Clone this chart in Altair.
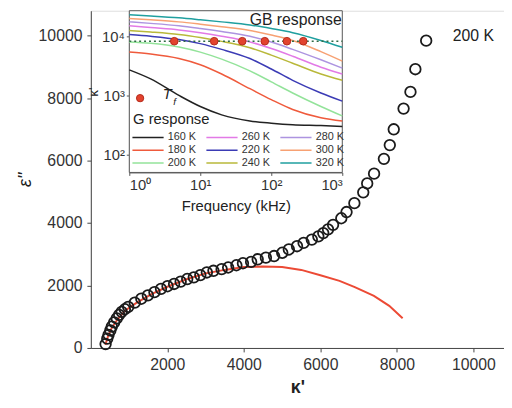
import altair as alt
import pandas as pd

# ---------------- main plot data (200 K Cole-Cole) ----------------
circ_x = [386, 430, 463, 510, 548, 610, 677, 740, 806, 890, 977, 1148, 1320, 1491, 1663,
          1834, 2005, 2177, 2348, 2519, 2691, 2862, 3033, 3205, 3419, 3590, 3805, 3976,
          4190, 4362, 4576, 4790, 5004, 5176, 5390, 5562, 5776, 5947, 6076, 6200, 6332,
          6547, 6684, 6889, 7121, 7224, 7404, 7661, 7815, 7918, 8175, 8355, 8483, 8766]
circ_y = [126, 300, 420, 560, 684, 820, 947, 1060, 1157, 1240, 1315, 1451, 1577, 1683, 1788,
          1893, 1977, 2050, 2124, 2208, 2261, 2335, 2418, 2472, 2524, 2577, 2649, 2713,
          2755, 2840, 2892, 2944, 3049, 3154, 3259, 3364, 3470, 3574, 3680, 3800, 3943,
          4154, 4353, 4637, 4984, 5268, 5583, 6057, 6498, 7003, 7665, 8201, 8927, 9841]

fit_x = [380, 450, 550, 700, 900, 1200, 1600, 2000, 2500, 3000, 3500, 4000, 4500,
         5000, 5500, 6000, 6500, 6900, 7400, 7800, 8150]
fit_y = [100, 380, 650, 920, 1200, 1450, 1730, 1960, 2200, 2390, 2500, 2590, 2610,
         2590, 2500, 2330, 2150, 1950, 1670, 1350, 950]

# ---------------- inset data ----------------
freq = [1, 2, 5, 10, 20, 50, 100, 200, 500, 1000]
eps = {
    "160 K": [2700, 1900, 1000, 650, 470, 370, 340, 320, 310, 300],
    "180 K": [5400, 5000, 4200, 3300, 2300, 1300, 850, 580, 420, 370],
    "200 K": [8000, 7600, 6600, 5400, 4100, 2600, 1700, 1100, 650, 450],
    "220 K": [10700, 10000, 8800, 7500, 6000, 4200, 2800, 1800, 1100, 800],
    "240 K": [12500, 11800, 10700, 9500, 8200, 6400, 4800, 3500, 2300, 1800],
    "260 K": [15000, 14000, 12800, 11500, 10000, 8000, 6200, 4600, 3000, 2300],
    "280 K": [17500, 16500, 15000, 13500, 12000, 10000, 8000, 6000, 4000, 2900],
    "300 K": [20000, 19000, 17500, 16000, 14500, 12500, 10500, 8500, 5500, 3800],
    "320 K": [23000, 22000, 20500, 19000, 17500, 15500, 13500, 11500, 8500, 6500],
}
legend_order = ["160 K", "260 K", "280 K", "180 K", "220 K", "300 K", "200 K", "240 K", "320 K"]
legend_colors = ["#222222", "#e27ae6", "#ad94e0", "#ef5a3c", "#3b3bb5", "#f7a173",
                 "#93e39a", "#b9b83a", "#1f9f9f"]
tf_freq = [4.3, 15.7, 39, 81, 166, 282]
tf_level = 8250

# ---------------- geometry ----------------
W, H = 419, 342
FONT = "Liberation Sans"

xs = alt.Scale(domain=[0, 10800], nice=False, zero=False)
ys = alt.Scale(domain=[0, 10800], nice=False, zero=False)

main_xaxis = alt.Axis(title="κ'", values=[2000, 4000, 6000, 8000, 10000], format="d",
                      grid=False, tickSize=4, labelFontSize=16,
                      titleFontSize=18, titleFontWeight="bold",
                      labelPadding=5, titlePadding=6,
                      domainColor="#444", tickColor="#444",
                      labelColor="#333", titleColor="#222")
main_yaxis = alt.Axis(title="ε''", values=[0, 2000, 4000, 6000, 8000, 10000], format="d",
                      grid=False, tickSize=4, labelFontSize=16,
                      titleFontSize=18, titleFontStyle="italic", titleFontWeight="normal",
                      labelPadding=5, titlePadding=4,
                      domainColor="#444", tickColor="#444",
                      labelColor="#333", titleColor="#222")


def mx(field):
    return alt.X(field, scale=xs, axis=main_xaxis)


def my(field):
    return alt.Y(field, scale=ys, axis=main_yaxis)


df_c = pd.DataFrame({"k": circ_x, "e": circ_y})
df_f = pd.DataFrame({"k": fit_x, "e": fit_y})

fit = alt.Chart(df_f).mark_line(color="#ec4a35", strokeWidth=2).encode(
    x=mx("k:Q"), y=my("e:Q"))
circles = alt.Chart(df_c).mark_point(shape="circle", filled=False, size=115,
                                     strokeWidth=1.8, color="#1b1b1b", opacity=1).encode(
    x=mx("k:Q"), y=my("e:Q"))
lbl200 = alt.Chart(pd.DataFrame({"k": [10000], "e": [10000], "t": ["200 K"]})).mark_text(
    font=FONT, fontSize=16, color="#222").encode(x=mx("k:Q"), y=my("e:Q"), text="t:N")

main = alt.layer(fit, circles, lbl200)

# ---------------- inset ----------------
ixs = alt.Scale(type="log", domain=[1, 1000], range=[39, 255], nice=False)
iys = alt.Scale(type="log", domain=[50, 27000], range=[164, 0], nice=False)
sup = ("datum.value == 1 ? '10⁰' : datum.value == 10 ? '10¹' : datum.value == 100 ? '10²' : "
       "datum.value == 1000 ? '10³' : '10⁴'")

in_xaxis = alt.Axis(orient="bottom", offset=-(H - 164),
                    values=[1, 10, 100, 1000], labelExpr=sup,
                    title="Frequency (kHz)", grid=False, tickSize=3,
                    labelFontSize=15, titleFontSize=15,
                    titleFontWeight="normal", labelPadding=2,
                    titlePadding=7, domainColor="#555",
                    tickColor="#555", labelColor="#333",
                    titleColor="#222")
in_yaxis = alt.Axis(orient="left", offset=-39,
                    values=[100, 1000, 10000], labelExpr=sup,
                    title="κ'", grid=False, tickSize=3,
                    labelFontSize=15, titleFontSize=13,
                    titleFontWeight="normal", labelPadding=2,
                    titlePadding=1, domainColor="#555",
                    tickColor="#555", labelColor="#333",
                    titleColor="#222")


def ix(field):
    return alt.X(field, scale=ixs, axis=in_xaxis)


def iy(field):
    return alt.Y(field, scale=iys, axis=in_yaxis)


bg = alt.Chart(pd.DataFrame({"f": [1], "b": [1000], "v": [50], "d": [27000]})).mark_rect(
    fill="white", stroke="#555", strokeWidth=1).encode(
    x=ix("f:Q"), x2="b:Q", y=iy("v:Q"), y2="d:Q")

rows = []
for t in legend_order:
    for f, v in zip(freq, eps[t]):
        rows.append({"f": f, "v": v, "T": t})
df_l = pd.DataFrame(rows)

lines = alt.Chart(df_l).mark_line(strokeWidth=1.5, interpolate="monotone").encode(
    x=ix("f:Q"), y=iy("v:Q"),
    color=alt.Color("T:N", scale=alt.Scale(domain=legend_order, range=legend_colors),
                    sort=legend_order,
                    legend=alt.Legend(orient="none", legendX=41, legendY=122, columns=3,
                                      direction="horizontal", values=legend_order,
                                      symbolType="stroke", symbolSize=1000,
                                      symbolStrokeWidth=1.5, labelFontSize=11,
                                      labelFont=FONT, labelColor="#333", title=None,
                                      columnPadding=9, rowPadding=0, clipHeight=13,
                                      labelOffset=3, padding=0)),
    detail="T:N",
)

dotted = alt.Chart(pd.DataFrame({"f": [1], "b": [1000], "v": [tf_level]})).mark_rule(
    color="#2f6b45", strokeWidth=1.5, strokeDash=[2, 3]).encode(
    x=ix("f:Q"), x2="b:Q", y=iy("v:Q"))

dots = alt.Chart(pd.DataFrame({"f": tf_freq, "v": [tf_level] * len(tf_freq)})).mark_circle(
    size=60, color="#e2432e", opacity=1, stroke="#b52a1a", strokeWidth=1).encode(
    x=ix("f:Q"), y=iy("v:Q"))

key_dot = alt.Chart(pd.DataFrame({"f": [1.42], "v": [900]})).mark_circle(
    size=55, color="#e2432e", opacity=1, stroke="#b52a1a", strokeWidth=1).encode(
    x=ix("f:Q"), y=iy("v:Q"))

txt_f = [2.95, 4.15, 1.13, 980]
txt_v = [1060, 780, 400, 18500]
txt_t = ["T", "f", "G response", "GB response"]
txt_s = [15, 10, 15, 16]
txt_a = ["left", "left", "left", "right"]
texts = []
for f, v, t, s, a in zip(txt_f, txt_v, txt_t, txt_s, txt_a):
    texts.append(alt.Chart(pd.DataFrame({"f": [f], "v": [v], "t": [t]})).mark_text(
        font=FONT, fontSize=s, color="#222", align=a,
        fontStyle="italic" if t in ("T", "f") else "normal").encode(
        x=ix("f:Q"), y=iy("v:Q"), text="t:N"))

inset = alt.layer(bg, lines, dotted, dots, key_dot, *texts)

chart = alt.layer(main, inset).resolve_scale(
    x="independent", y="independent").resolve_axis(
    x="independent", y="independent").properties(
    width=W, height=H,
    padding={"left": 84, "top": 0, "right": 0, "bottom": 50},
    autosize=alt.AutoSizeParams(type="none"),
).configure_view(stroke="#444", strokeWidth=1.3).configure_axis(
    labelFont=FONT, titleFont=FONT).configure(background="white")

chart.save("out.html", embed_options={"renderer": "svg", "actions": False})
